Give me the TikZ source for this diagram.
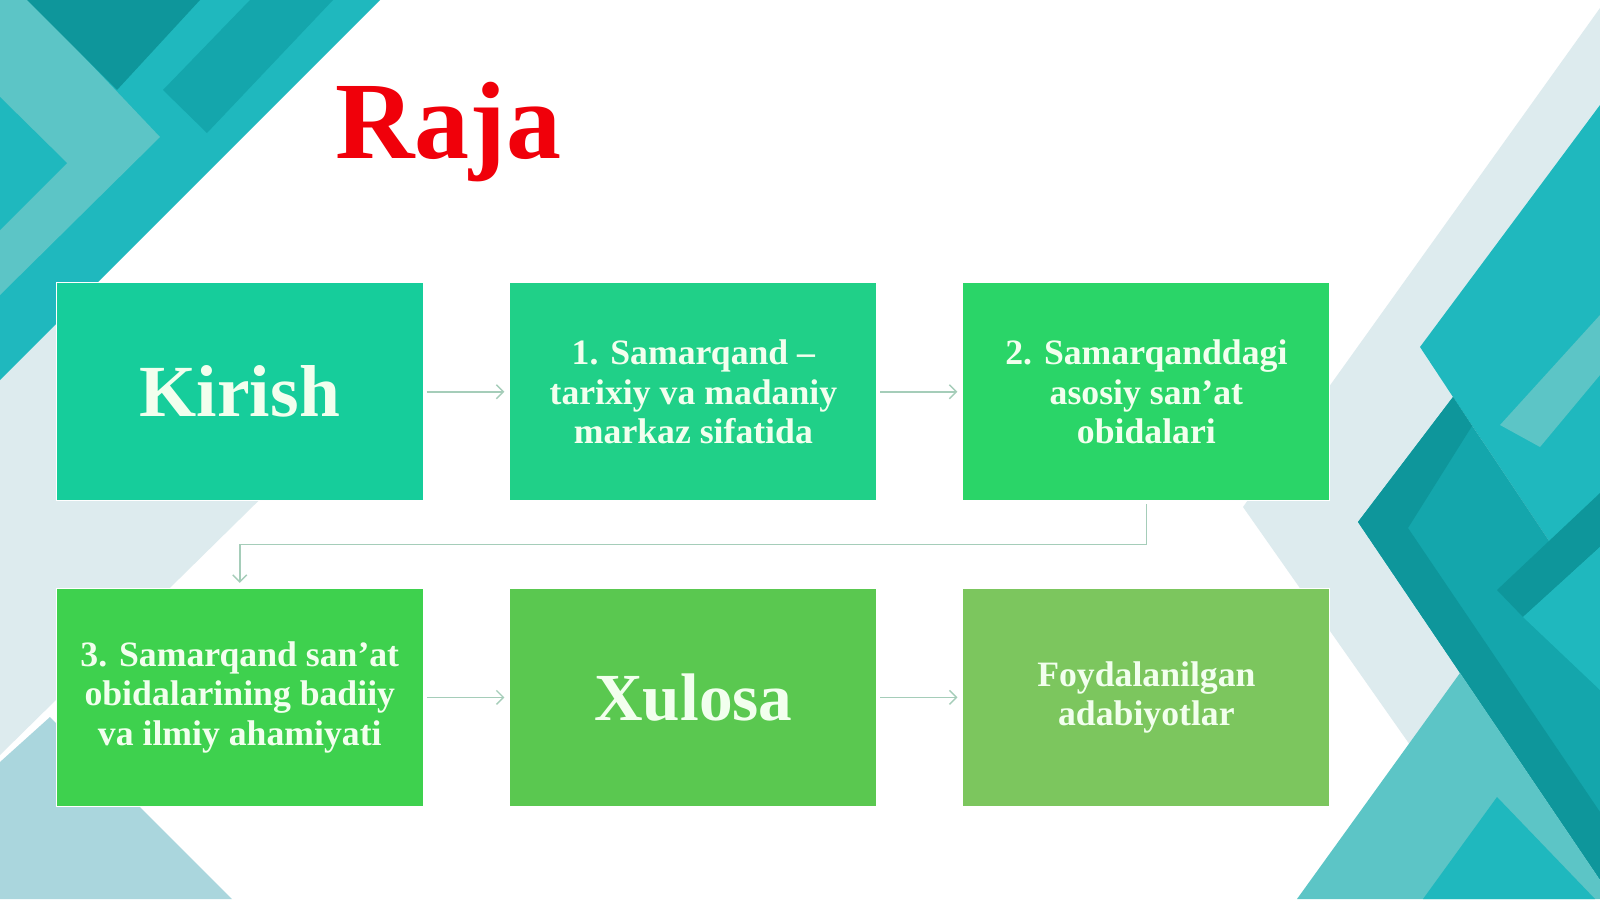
\documentclass[tikz,border=0pt]{standalone}
\usepackage{fontspec}
\setmainfont{Liberation Serif}
\usetikzlibrary{arrows.meta}
\definecolor{tealmid}{RGB}{31,184,190}
\definecolor{teallight}{RGB}{92,197,198}
\definecolor{tealdark}{RGB}{14,150,155}
\definecolor{tealdarkb}{RGB}{20,166,172}
\definecolor{palebg}{RGB}{221,235,238}
\definecolor{lblue}{RGB}{170,214,221}
\definecolor{boxA}{RGB}{22,205,155}
\definecolor{boxB}{RGB}{32,208,136}
\definecolor{boxC}{RGB}{42,213,104}
\definecolor{boxD}{RGB}{62,209,78}
\definecolor{boxE}{RGB}{90,200,80}
\definecolor{boxF}{RGB}{124,198,94}
\definecolor{txt}{RGB}{242,255,238}
\definecolor{conncol}{RGB}{165,205,185}
\definecolor{titlered}{RGB}{240,0,10}
\tikzset{
  stepbox/.style={draw=white, line width=1pt, minimum width=367pt, minimum height=218pt,
    inner sep=0pt, text=txt, align=center, font=\fontsize{35.7}{39.8}\selectfont\bfseries},
  bigtext/.style={font=\fontsize{73.5}{80}\selectfont\bfseries},
  conn/.style={draw=conncol, line width=1.4pt, -{Straight Barb[length=7pt,width=14pt]},
    shorten <=3pt, shorten >=5pt}
}
\begin{document}
\begin{tikzpicture}[x=1pt,y=-1pt]
\useasboundingbox (0,0) rectangle (1600,899);
\fill[white] (0,0) rectangle (1600,899);
% ---------- background, left ----------
\fill[palebg] (0,380) -- (97,283) -- (300,283) -- (300,460) -- (0,755) -- cycle;
\fill[lblue] (0,762) -- (50,717) -- (232,899) -- (0,899) -- cycle;
\fill[tealmid] (0,0) -- (380,0) -- (0,380) -- cycle;
\fill[teallight] (0,0) -- (30,0) -- (160,137) -- (0,295) -- cycle;
\fill[tealmid] (0,97) -- (67,163) -- (0,230) -- cycle;
\fill[tealdark] (27,0) -- (200,0) -- (117,90) -- cycle;
\fill[tealdarkb] (250,0) -- (333,0) -- (207,133) -- (163,90) -- cycle;
% ---------- background, right ----------
\fill[palebg] (1600,8) -- (1243,507) -- (1410,745) -- (1600,745) -- cycle;
\fill[tealmid] (1600,105) -- (1420,347) -- (1453,397) -- (1600,617) -- cycle;
\fill[teallight] (1500,425) -- (1600,315) -- (1600,375) -- (1540,447) -- cycle;
\fill[tealdarkb] (1453,397) -- (1358,522) -- (1600,880) -- (1600,617) -- cycle;
\fill[tealdark] (1453,397) -- (1358,522) -- (1600,880) -- (1600,812) -- (1408,528) -- (1472,426) -- cycle;
\fill[tealdark] (1497,590) -- (1600,493) -- (1600,547) -- (1523,617) -- cycle;
\fill[tealmid] (1523,617) -- (1600,547) -- (1600,690) -- cycle;
\fill[teallight] (1460,673) -- (1297,899) -- (1600,899) -- (1600,880) -- cycle;
\fill[tealmid] (1497,797) -- (1423,899) -- (1595,899) -- cycle;
% ---------- title ----------
\node[anchor=base west, inner sep=0pt, text=titlered, font=\fontsize{110}{120}\selectfont\bfseries] (title) at (335,158) {Raja};
% ---------- boxes ----------
\node[stepbox, fill=boxA, bigtext] (b1) at (239.8,391.8) {Kirish};
\node[stepbox, fill=boxB] (b2) at (693.4,391.8) {1. Samarqand --\\tarixiy va madaniy\\markaz sifatida};
\node[stepbox, fill=boxC] (b3) at (1146.4,391.8) {2. Samarqanddagi\\asosiy san’at\\obidalari};
\node[stepbox, fill=boxD] (b4) at (239.8,697.4) {3. Samarqand san’at\\obidalarining badiiy\\va ilmiy ahamiyati};
\node[stepbox, fill=boxE, font=\fontsize{67.3}{73}\selectfont\bfseries] (b5) at (693.4,697.4) {Xulosa};
\node[stepbox, fill=boxF] (b6) at (1146.4,697.4) {Foydalanilgan\\adabiyotlar};
% ---------- connectors ----------
\draw[conn] (b1) -- (b2);
\draw[conn] (b2) -- (b3);
\draw[conn] (b3.south) -- ++(0,43) -| (b4.north);
\draw[conn] (b4) -- (b5);
\draw[conn] (b5) -- (b6);
\end{tikzpicture}
\end{document}
